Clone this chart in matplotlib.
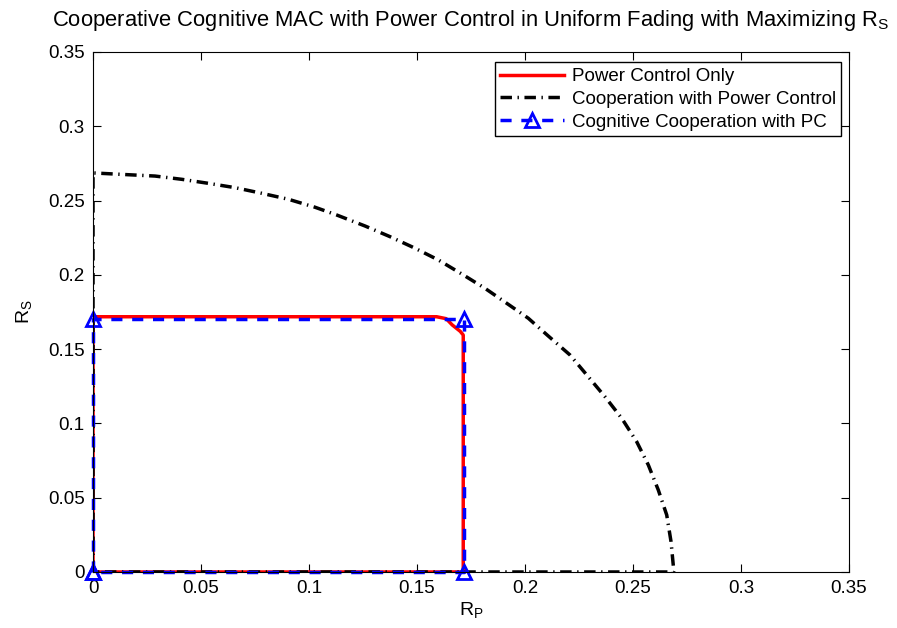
import numpy as np
import matplotlib.pyplot as plt

plt.rcParams['font.family'] = ['Liberation Sans', 'DejaVu Sans']
plt.rcParams['mathtext.fontset'] = 'custom'
plt.rcParams['mathtext.rm'] = 'Liberation Sans'
plt.rcParams['mathtext.it'] = 'Liberation Sans'

# Power Control Only (red)
pc_x = [0, 0, 0.1591, 0.1635, 0.1663, 0.1700, 0.1714, 0.1714, 0]
pc_y = [0, 0.1718, 0.1718, 0.1705, 0.1663, 0.1620, 0.1595, 0, 0]

# Cooperation with Power Control (black dash-dot)
coop_x = [0, 0, 0.0163, 0.0287, 0.0411, 0.0534, 0.0657, 0.0781, 0.0904, 0.1028,
          0.1128, 0.1259, 0.1375, 0.1491, 0.1599, 0.1707, 0.1815, 0.1915, 0.2015,
          0.2108, 0.2208, 0.2286, 0.2370, 0.2448, 0.2517, 0.2571, 0.2617, 0.2656,
          0.2676, 0.2687, 0.2688, 0]
coop_y = [0, 0.2686, 0.2674, 0.2665, 0.2643, 0.2616, 0.2587, 0.2549, 0.2509, 0.2455,
          0.2403, 0.2329, 0.2257, 0.2179, 0.2100, 0.2006, 0.1909, 0.1809, 0.1708,
          0.1588, 0.1461, 0.1326, 0.1180, 0.1034, 0.0877, 0.0720, 0.0552, 0.0384,
          0.0204, 0.0036, 0, 0]

# Cognitive Cooperation with PC (blue, triangles)
cog_x = [0, 0, 0.1718, 0.1718, 0]
cog_y = [0, 0.170, 0.170, 0, 0]

fig = plt.figure(figsize=(8.97, 6.28), dpi=100)
ax = fig.add_axes([0.1037, 0.0892, 0.8428, 0.828])

ax.plot(pc_x, pc_y, color='red', lw=2.5, label='Power Control Only')
ax.plot(coop_x, coop_y, color='black', lw=2.5, dashes=(3.3, 1.6, 0.4, 1.6),
        label='Cooperation with Power Control')
ax.plot(cog_x, cog_y, color='blue', lw=2.5, dashes=(3.2, 2.8), marker='^',
        markersize=10, markerfacecolor='none', markeredgewidth=2, clip_on=False,
        label='Cognitive Cooperation with PC')

ax.set_xlim(0, 0.35)
ax.set_ylim(0, 0.35)
ticks = [0, 0.05, 0.1, 0.15, 0.2, 0.25, 0.3, 0.35]
tick_labels = ['0', '0.05', '0.1', '0.15', '0.2', '0.25', '0.3', '0.35']
ax.set_xticks(ticks)
ax.set_yticks(ticks)
ax.set_xticklabels(tick_labels)
ax.set_yticklabels(tick_labels)
ax.tick_params(direction='in', top=True, right=True, labelsize=13.5, length=6, pad=6)

ax.set_xlabel(r'R$_\mathregular{P}$', fontsize=14, labelpad=2)
ax.set_ylabel(r'R$_\mathregular{S}$', fontsize=14, labelpad=10)
ax.set_title(r'Cooperative Cognitive MAC with Power Control in Uniform Fading with Maximizing R$_\mathregular{S}$',
             fontsize=15.8, pad=19)

leg = ax.legend(loc='upper right', fontsize=13.5, handlelength=3.4, fancybox=False,
                edgecolor='black', framealpha=1, borderpad=0.3, labelspacing=0.3,
                handletextpad=0.4, borderaxespad=0, bbox_to_anchor=(0.99, 0.98))
leg.get_frame().set_linewidth(1)

fig.savefig('out.png', dpi=100)
